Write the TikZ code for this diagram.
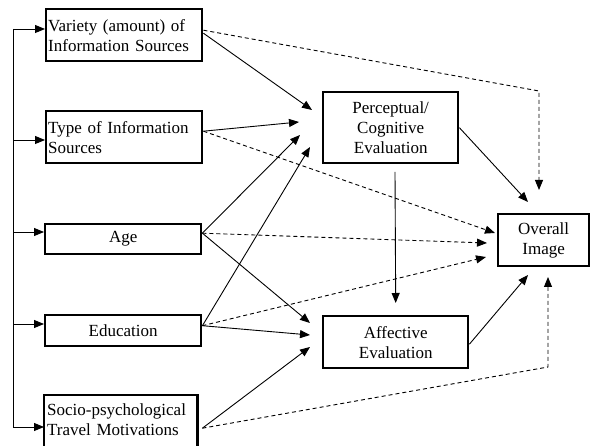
\documentclass[tikz,border=0pt]{standalone}
\usepackage{fontspec}
\setmainfont{Liberation Serif}
\usetikzlibrary{arrows.meta}
\begin{document}
\begin{tikzpicture}[x=1pt,y=-1pt,
  box/.style={draw, line width=2.4pt, inner sep=2pt, anchor=north west,
    font=\fontsize{17}{20}\selectfont},
  openbox/.style={box, draw=none},
  boxline/.style={line width=2.4pt},
  ln/.style={line width=0.9pt},
  arr/.style={ln, -{Triangle[length=10pt,width=8pt]}},
  darr/.style={arr, dash pattern=on 4pt off 3pt}]
\useasboundingbox (0,0) rectangle (592,446);
% boxes
\node[box, minimum width=156pt, minimum height=52pt, text width=152pt, align=left] (var) at (45,8) {Variety (amount) of\\Information Sources};
\node[box, minimum width=156pt, minimum height=52pt, text width=152pt, align=left] (type) at (45,110) {Type of Information\\Sources};
\node[box, minimum width=156pt, minimum height=30pt, text width=152pt, align=center] (age) at (44,223) {Age};
\node[box, minimum width=156pt, minimum height=31pt, text width=152pt, align=center] (edu) at (44,314) {Education};
\node[openbox, minimum width=151pt, minimum height=46pt, text width=147pt, align=left] (soc) at (44,395) {Socio-psychological\\Travel Motivations};
\draw[boxline] ([yshift=-15pt]soc.south west) -- (soc.north west) -- (soc.north east) -- ([yshift=-15pt]soc.south east);
\node[box, minimum width=135pt, minimum height=71pt, text width=131pt, align=center] (perc) at (322,91) {Perceptual/\\Cognitive\\Evaluation};
\node[box, minimum width=91pt, minimum height=52pt, text width=87pt, align=center] (ovr) at (497,213) {Overall\\Image};
\node[box, minimum width=145pt, minimum height=52pt, text width=141pt, align=center] (aff) at (322,315) {Affective\\Evaluation};
% coordinates
\coordinate (s1) at (13,29);
\coordinate (s2) at (13,140);
\coordinate (s3) at (13,232);
\coordinate (s4) at (13,324);
\coordinate (s5) at (13,427);
\coordinate (p1) at (312,110);
\coordinate (p2) at (299,122);
\coordinate (p3) at (300,135);
\coordinate (p4) at (310,147);
\coordinate (a1) at (310,323);
\coordinate (a2) at (310,335);
\coordinate (a3) at (310,347);
\coordinate (o1) at (528,202);
\coordinate (o2) at (528,275);
\coordinate (v1) at (395,172);
\coordinate (c1) at (539,91);
\coordinate (o3) at (539,190);
\coordinate (o4) at (495,233);
\coordinate (o5) at (487,243);
\coordinate (o6) at (486,257);
\coordinate (c2) at (548,367);
\coordinate (o7) at (548,277);
% left spine
\draw[ln] (s1) -- (s5);
\draw[arr] (s1) -- (var.west |- s1);
\draw[arr] (s2) -- (type.west |- s2);
\draw[arr] (s3) -- (age.west |- s3);
\draw[arr] (s4) -- (edu.west |- s4);
\draw[arr] (s5) -- (soc.west |- s5);
% solid
\draw[arr] ([yshift=2pt]var.east) -- (p1);
\draw[arr] ([yshift=6pt]type.east) -- (p2);
\draw[arr] ([yshift=6pt]age.east) -- (p3);
\draw[arr] ([yshift=5pt]edu.east) -- (p4);
\draw[arr] ([yshift=6pt]age.east) -- (a1);
\draw[arr] ([yshift=5pt]edu.east) -- (a2);
\draw[arr] ([xshift=5pt,yshift=-9pt]soc.east) -- (a3);
\draw[arr] (perc.east) -- (o1);
\draw[arr] (v1) -- ([yshift=12pt]aff.north);
\draw[arr] ([yshift=-2pt]aff.east) -- (o2);
% dashed
\draw[darr] ([yshift=5pt]var.east) -- (c1) -- (o3);
\draw[darr] ([yshift=6pt]type.east) -- (o4);
\draw[darr] ([yshift=6pt]age.east) -- (o5);
\draw[darr] ([yshift=5pt]edu.east) -- (o6);
\draw[darr] ([xshift=5pt,yshift=-9pt]soc.east) -- (c2) -- (o7);
\end{tikzpicture}
\end{document}
